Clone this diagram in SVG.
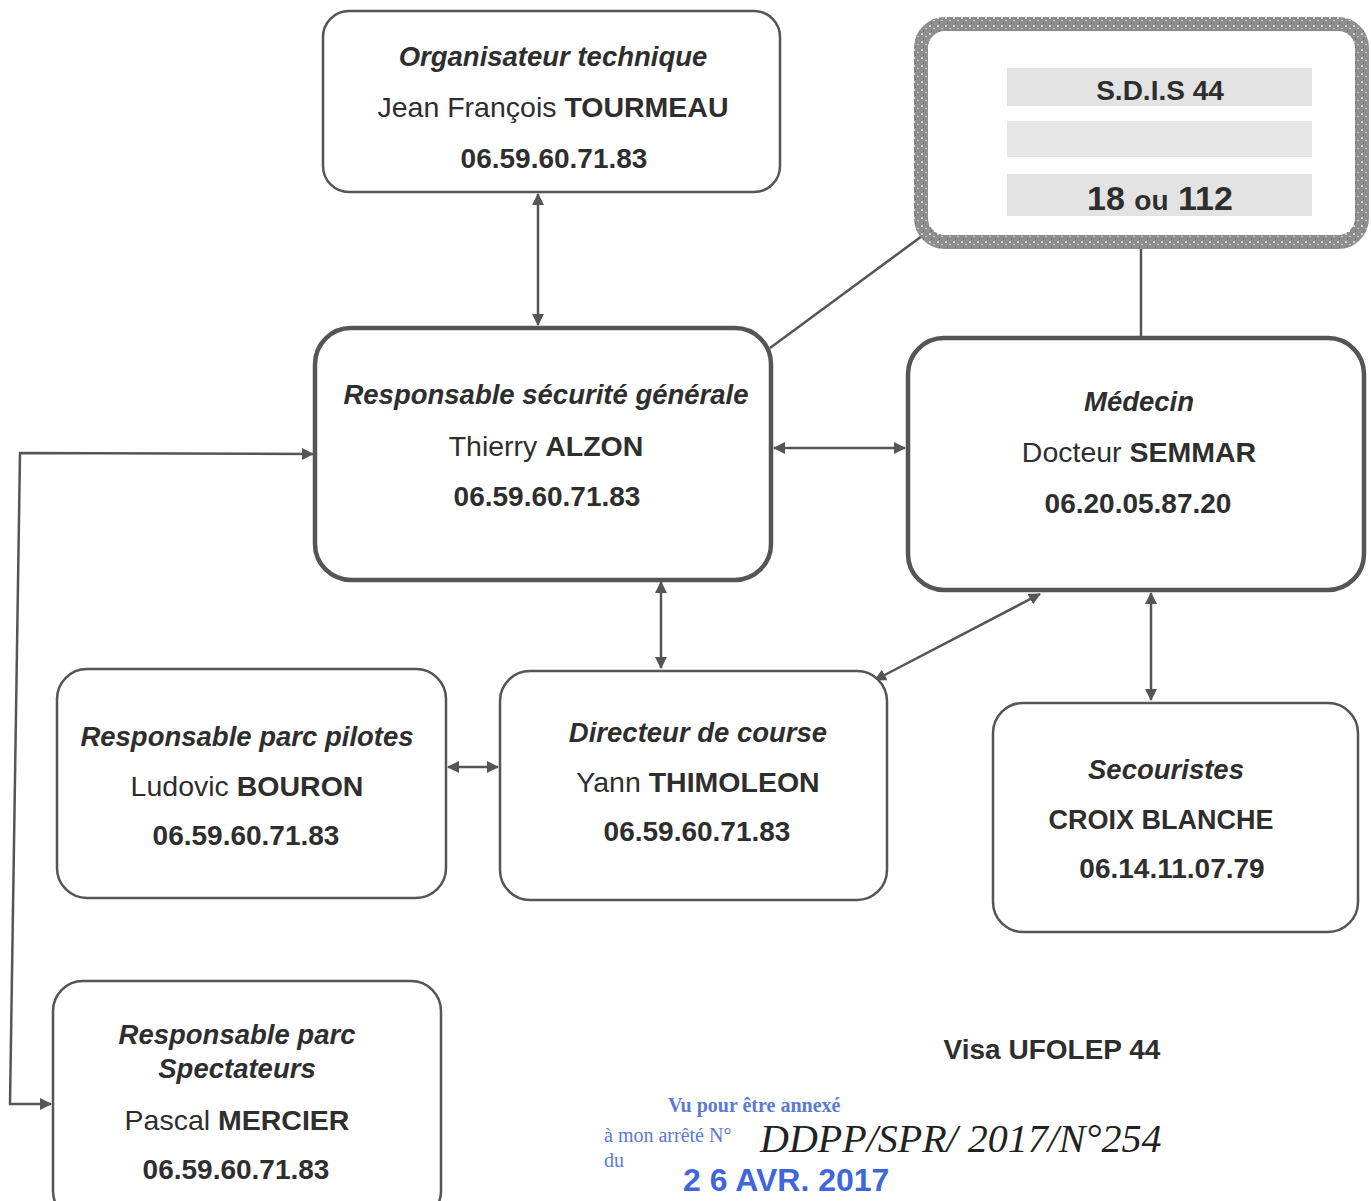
<svg xmlns="http://www.w3.org/2000/svg" width="1371" height="1201" viewBox="0 0 1371 1201">
<style>
.box{fill:#fff;stroke:#555;stroke-width:2.5}
.thick{stroke-width:4.5}
.t{font-family:"Liberation Sans",Arial,sans-serif;fill:#2e2e2e;text-anchor:middle}
.ti{font-weight:bold;font-style:italic;font-size:27.5px}
.tn{font-size:28.5px}
.b{font-weight:bold}
.ph{font-weight:bold;font-size:28px}
.c{fill:none;stroke:#555;stroke-width:2.5}
.stamp{font-family:"Liberation Serif",serif;fill:#5a7ad6;font-size:20px}
</style>
<defs>
<marker id="ah" viewBox="0 0 12 12" refX="11" refY="6" markerWidth="12" markerHeight="12" markerUnits="userSpaceOnUse" orient="auto-start-reverse">
<path d="M0,0 L12,6 L0,12 z" fill="#555"/>
</marker>
<pattern id="tex" width="8" height="8" patternUnits="userSpaceOnUse">
<rect width="8" height="8" fill="#8e8e8e"/>
<rect x="1" y="1" width="2" height="2" fill="#d0d0d0"/>
<rect x="5" y="4" width="2" height="1" fill="#c4c4c4"/>
<rect x="3" y="6" width="1" height="2" fill="#707070"/>
</pattern>
</defs>

<g id="connectors">
<line class="c" x1="538" y1="194" x2="538" y2="325" marker-start="url(#ah)" marker-end="url(#ah)"/>
<line class="c" x1="770" y1="348" x2="922" y2="236"/>
<line class="c" x1="1141" y1="337" x2="1141" y2="248"/>
<line class="c" x1="774" y1="448" x2="905" y2="448" marker-start="url(#ah)" marker-end="url(#ah)"/>
<line class="c" x1="661" y1="582" x2="661" y2="668" marker-start="url(#ah)" marker-end="url(#ah)"/>
<line class="c" x1="1040" y1="594" x2="875" y2="680" marker-start="url(#ah)" marker-end="url(#ah)"/>
<line class="c" x1="1151" y1="593" x2="1151" y2="700" marker-start="url(#ah)" marker-end="url(#ah)"/>
<line class="c" x1="448" y1="767" x2="498" y2="767" marker-start="url(#ah)" marker-end="url(#ah)"/>
<polyline class="c" points="313,454 20,453 10,1104 51,1104" marker-start="url(#ah)" marker-end="url(#ah)"/>
</g>

<g id="organisateur">
<rect class="box" x="323" y="11" width="457" height="181" rx="26"/>
<text class="t ti" x="553" y="66">Organisateur technique</text>
<text class="t tn" x="553" y="117">Jean François <tspan class="b">TOURMEAU</tspan></text>
<text class="t ph" x="554" y="168">06.59.60.71.83</text>
</g>

<g id="sdis">
<rect x="921" y="24" width="441" height="218" rx="24" fill="#fff" stroke="url(#tex)" stroke-width="14"/>
<rect x="934" y="44" width="416" height="188" fill="#fff"/>
<rect x="1007" y="68" width="305" height="38" fill="#e3e3e3"/>
<rect x="1007" y="121" width="305" height="36" fill="#e6e6e6"/>
<rect x="1007" y="174" width="305" height="42" fill="#e3e3e3"/>
<text class="t b" x="1160" y="100" font-size="28">S.D.I.S 44</text>
<text class="t b" x="1160" y="210" font-size="34">18 <tspan font-size="28">ou</tspan> 112</text>
</g>

<g id="securite">
<rect class="box thick" x="315" y="328" width="456" height="252" rx="36"/>
<text class="t ti" x="546" y="404">Responsable sécurité générale</text>
<text class="t tn" x="546" y="456">Thierry <tspan class="b">ALZON</tspan></text>
<text class="t ph" x="547" y="506">06.59.60.71.83</text>
</g>

<g id="medecin">
<rect class="box thick" x="908" y="338" width="456" height="252" rx="36"/>
<text class="t ti" x="1139" y="411">Médecin</text>
<text class="t tn" x="1139" y="462">Docteur  <tspan class="b">SEMMAR</tspan></text>
<text class="t ph" x="1138" y="513">06.20.05.87.20</text>
</g>

<g id="pilotes">
<rect class="box" x="57" y="669" width="389" height="229" rx="30"/>
<text class="t ti" x="247" y="746">Responsable parc pilotes</text>
<text class="t tn" x="247" y="796">Ludovic <tspan class="b">BOURON</tspan></text>
<text class="t ph" x="246" y="845">06.59.60.71.83</text>
</g>

<g id="directeur">
<rect class="box" x="500" y="671" width="387" height="229" rx="30"/>
<text class="t ti" x="698" y="742">Directeur de course</text>
<text class="t tn" x="698" y="792">Yann <tspan class="b">THIMOLEON</tspan></text>
<text class="t ph" x="697" y="841">06.59.60.71.83</text>
</g>

<g id="secouristes">
<rect class="box" x="993" y="703" width="365" height="229" rx="30"/>
<text class="t ti" x="1166" y="779">Secouristes</text>
<text class="t b" x="1161" y="829" font-size="27">CROIX BLANCHE</text>
<text class="t ph" x="1172" y="878">06.14.11.07.79</text>
</g>

<g id="spectateurs">
<rect class="box" x="53" y="981" width="388" height="240" rx="30"/>
<text class="t ti" x="237" y="1044">Responsable parc</text>
<text class="t ti" x="237" y="1078">Spectateurs</text>
<text class="t tn" x="237" y="1130">Pascal <tspan class="b">MERCIER</tspan></text>
<text class="t ph" x="236" y="1179">06.59.60.71.83</text>
</g>

<text class="t b" x="1052" y="1059" font-size="28">Visa UFOLEP 44</text>

<g id="stamp">
<text class="stamp" x="668" y="1112" font-weight="bold">Vu pour être annexé</text>
<text class="stamp" x="604" y="1142">à mon arrêté N°</text>
<text class="stamp" x="604" y="1167" font-size="16">du</text>
<text x="683" y="1191" font-family="Liberation Sans,sans-serif" font-weight="bold" font-size="32" fill="#3f66da">2 6  AVR. 2017</text>
<text x="760" y="1152" font-family="Liberation Serif,serif" font-style="italic" font-size="40" fill="#222">DDPP/SPR/ 2017/N°254</text>
</g>
</svg>
